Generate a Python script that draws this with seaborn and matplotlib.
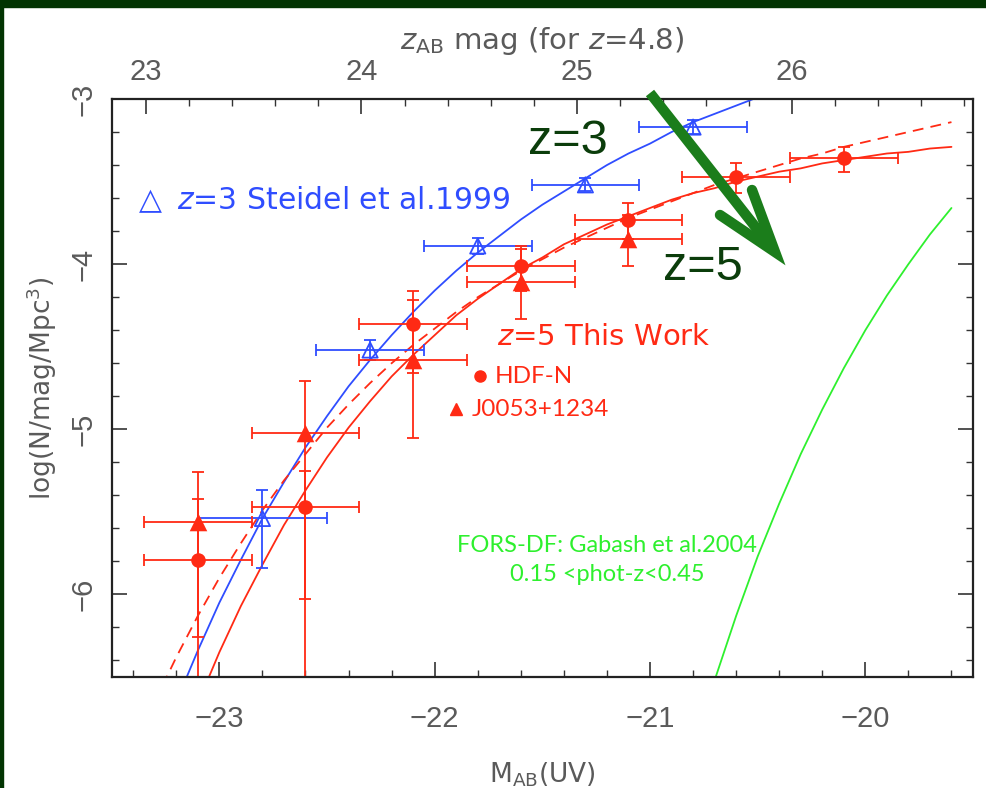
import matplotlib
matplotlib.use("Agg")
import matplotlib.pyplot as plt
import seaborn as sns
from matplotlib.ticker import MultipleLocator, FixedLocator
from matplotlib.lines import Line2D

sns.set_theme(style="ticks")
plt.rcParams['font.family'] = ['DejaVu Sans']
plt.rcParams['mathtext.fontset'] = 'dejavusans'

# z=3 Steidel et al. 1999 points
steidel_M = [-22.8, -22.3, -21.8, -21.3, -20.8]
steidel_phi = [-5.54, -4.52, -3.89, -3.52, -3.17]
steidel_xerr = [0.3, 0.25, 0.25, 0.25, 0.25]
steidel_yerr_lo = [0.30, 0.06, 0.05, 0.04, 0.04]
steidel_yerr_hi = [0.17, 0.06, 0.05, 0.04, 0.04]

# z=5 HDF-N points
hdfn_M = [-23.1, -22.6, -22.1, -21.6, -21.1, -20.6, -20.1]
hdfn_phi = [-5.79, -5.47, -4.36, -4.01, -3.73, -3.47, -3.36]
hdfn_xerr = [0.25, 0.25, 0.25, 0.25, 0.25, 0.25, 0.25]
hdfn_yerr_lo = [1.0, 0.56, 0.3, 0.15, 0.12, 0.1, 0.08]
hdfn_yerr_hi = [0.37, 0.22, 0.2, 0.12, 0.1, 0.08, 0.07]

# z=5 J0053+1234 points
j0053_M = [-23.1, -22.6, -22.1, -21.6, -21.1]
j0053_phi = [-5.56, -5.02, -4.58, -4.11, -3.85]
j0053_xerr = [0.25, 0.25, 0.25, 0.25, 0.25]
j0053_yerr_lo = [0.7, 1.6, 0.47, 0.22, 0.16]
j0053_yerr_hi = [0.3, 0.31, 0.36, 0.2, 0.15]

# Schechter fits, sampled every 0.1 mag
steidel_fit_M = [-23.2, -23.1, -23.0, -22.9, -22.8, -22.7, -22.6, -22.5, -22.4, -22.3,
                 -22.2, -22.1, -22.0, -21.9, -21.8, -21.7, -21.6, -21.5, -21.4, -21.3,
                 -21.2, -21.1, -21.0, -20.9, -20.8, -20.7, -20.6, -20.5, -20.4]
steidel_fit_phi = [-6.65, -6.34, -6.05, -5.79, -5.54, -5.32, -5.11, -4.92, -4.74, -4.58,
                   -4.43, -4.29, -4.16, -4.04, -3.93, -3.83, -3.73, -3.64, -3.56, -3.48,
                   -3.40, -3.33, -3.27, -3.20, -3.14, -3.09, -3.04, -2.99, -2.94]

z5_fit_M = [-23.1, -23.0, -22.9, -22.8, -22.7, -22.6, -22.5, -22.4, -22.3, -22.2,
            -22.1, -22.0, -21.9, -21.8, -21.7, -21.6, -21.5, -21.4, -21.3, -21.2,
            -21.1, -21.0, -20.9, -20.8, -20.7, -20.6, -20.5, -20.4, -20.3, -20.2,
            -20.1, -20.0, -19.9, -19.8, -19.7, -19.6]
z5_fit_phi = [-6.66, -6.35, -6.07, -5.82, -5.58, -5.37, -5.17, -4.99, -4.83, -4.68,
              -4.55, -4.43, -4.31, -4.21, -4.12, -4.03, -3.96, -3.88, -3.82, -3.76,
              -3.71, -3.66, -3.61, -3.57, -3.54, -3.50, -3.47, -3.44, -3.42, -3.39,
              -3.37, -3.35, -3.33, -3.32, -3.30, -3.29]

z5_steep_M = [-23.3, -23.2, -23.1, -23.0, -22.9, -22.8, -22.7, -22.6, -22.5, -22.4,
              -22.3, -22.2, -22.1, -22.0, -21.9, -21.8, -21.7, -21.6, -21.5, -21.4,
              -21.3, -21.2, -21.1, -21.0, -20.9, -20.8, -20.7, -20.6, -20.5, -20.4,
              -20.3, -20.2, -20.1, -20.0, -19.9, -19.8, -19.7, -19.6]
z5_steep_phi = [-6.65, -6.38, -6.13, -5.90, -5.69, -5.49, -5.31, -5.15, -4.99, -4.85,
                -4.72, -4.60, -4.49, -4.39, -4.29, -4.20, -4.12, -4.04, -3.97, -3.90,
                -3.84, -3.78, -3.72, -3.67, -3.62, -3.57, -3.52, -3.48, -3.44, -3.40,
                -3.36, -3.33, -3.29, -3.26, -3.23, -3.20, -3.17, -3.14]

fors_fit_M = [-20.7, -20.6, -20.5, -20.4, -20.3, -20.2, -20.1, -20.0, -19.9, -19.8,
              -19.7, -19.6]
fors_fit_phi = [-6.52, -6.13, -5.77, -5.45, -5.15, -4.88, -4.63, -4.40, -4.19, -4.00,
                -3.82, -3.66]

top_ticks = [23, 24, 25, 26]
ZAB_OFFSET = 46.34

W, H = 986, 788
fig = plt.figure(figsize=(W / 100, H / 100), dpi=100)
fig.patch.set_facecolor('white')
fig.add_artist(plt.Rectangle((0, 1 - 7 / H), 1, 7 / H, transform=fig.transFigure,
                             color='#023402', zorder=0))
fig.add_artist(plt.Rectangle((0, 0), 3 / W, 1, transform=fig.transFigure,
                             color='#023402', zorder=0))

L, R, T, B = 111.7, 973, 99, 677
ax = fig.add_axes([L / W, 1 - B / H, (R - L) / W, (B - T) / H])

BLUE = '#2f4dff'
RED = '#ff2a14'
GREEN = '#2ef02e'
GREY = '#5a5a5a'

sns.lineplot(x=steidel_fit_M, y=steidel_fit_phi, ax=ax, color=BLUE, lw=1.3, sort=False)
sns.lineplot(x=z5_fit_M, y=z5_fit_phi, ax=ax, color=RED, lw=1.3, sort=False)
sns.lineplot(x=z5_steep_M, y=z5_steep_phi, ax=ax, color=RED, lw=1.3, sort=False, dashes=(6, 4))
sns.lineplot(x=fors_fit_M, y=fors_fit_phi, ax=ax, color=GREEN, lw=1.3, sort=False)

ax.errorbar(steidel_M, steidel_phi, xerr=steidel_xerr, yerr=[steidel_yerr_lo, steidel_yerr_hi],
            fmt='none', ecolor=BLUE, elinewidth=1.3, capsize=4, capthick=1.3)
sns.scatterplot(x=steidel_M, y=steidel_phi, ax=ax, marker='^', s=120, facecolor='none',
                edgecolor=BLUE, linewidth=1.3, zorder=5)

ax.errorbar(hdfn_M, hdfn_phi, xerr=hdfn_xerr, yerr=[hdfn_yerr_lo, hdfn_yerr_hi],
            fmt='none', ecolor=RED, elinewidth=1.3, capsize=4, capthick=1.3)
sns.scatterplot(x=hdfn_M, y=hdfn_phi, ax=ax, marker='o', s=110, color=RED, edgecolor=RED,
                linewidth=0, zorder=5)
ax.errorbar(j0053_M, j0053_phi, xerr=j0053_xerr, yerr=[j0053_yerr_lo, j0053_yerr_hi],
            fmt='none', ecolor=RED, elinewidth=1.3, capsize=4, capthick=1.3)
sns.scatterplot(x=j0053_M, y=j0053_phi, ax=ax, marker='^', s=160, color=RED, edgecolor=RED,
                linewidth=0, zorder=5)

ax.set_xlim(-23.5, -19.5)
ax.set_ylim(-6.5, -3.0)
ax.xaxis.set_major_locator(MultipleLocator(1))
ax.xaxis.set_minor_locator(MultipleLocator(0.2))
ax.yaxis.set_major_locator(MultipleLocator(1))
ax.yaxis.set_minor_locator(MultipleLocator(0.2))
ax.tick_params(which='both', direction='in', top=False, right=True, color='#333333',
               labelcolor=GREY, labelsize=21)
ax.tick_params(which='major', length=11, width=1.2)
ax.tick_params(which='minor', length=5, width=1.0)
ax.tick_params(axis='x', pad=20)
ax.tick_params(axis='y', pad=10)
for lab in ax.get_xticklabels() + ax.get_yticklabels():
    lab.set_fontfamily('Liberation Sans')
for lab in ax.get_yticklabels():
    lab.set_rotation(90)
    lab.set_va('center')
for s in ax.spines.values():
    s.set_linewidth(1.6)
    s.set_color('#222222')

top = ax.secondary_xaxis('top', functions=(lambda M: M + ZAB_OFFSET, lambda m: m - ZAB_OFFSET))
top.xaxis.set_major_locator(FixedLocator(top_ticks))
top.xaxis.set_minor_locator(MultipleLocator(0.2))
top.tick_params(which='both', direction='in', color='#333333', labelcolor=GREY, labelsize=21, pad=9)
top.tick_params(which='major', length=11, width=1.2)
top.tick_params(which='minor', length=5, width=1.0)
for lab in top.get_xticklabels():
    lab.set_fontfamily('Liberation Sans')
top.set_xlabel(r'$z_{\rm AB}$ mag (for $z$=4.8)', color=GREY, fontsize=21, labelpad=7)

ax.set_xlabel(r'M$_{\rm AB}$(UV)', color=GREY, fontsize=19, labelpad=20)
ax.set_ylabel(r'log(N/mag/Mpc$^3$)', color=GREY, fontsize=19, labelpad=8)

ax.text(21 / (R - L), 1 - (200 - T) / (B - T), r'$\triangle$ $z$=3 Steidel et al.1999',
        transform=ax.transAxes, color=BLUE, fontsize=21.5, va='center')
ax.text((497 - L) / (R - L), 1 - (337 - T) / (B - T), r'$z$=5 This Work',
        transform=ax.transAxes, color=RED, fontsize=21, va='center')
ax.plot([-21.79], [-4.68], 'o', color=RED, ms=8)
ax.text(-21.72, -4.68, 'HDF-N', color=RED, fontsize=17.5, va='center', family='Lato')
ax.plot([-21.9], [-4.88], '^', color=RED, ms=8)
ax.text(-21.83, -4.88, 'J0053+1234', color=RED, fontsize=17.5, va='center', family='Lato')
ax.text(-21.2, -5.79, 'FORS-DF: Gabash et al.2004\n0.15 <phot-z<0.45', color=GREEN,
        fontsize=17, va='center', ha='center', family='Lato', linespacing=1.45)

# redshift arrow overlay
fig.text(528 / W, 1 - 141 / H, 'z=3', color='#0b3d0b', fontsize=35, va='center',
         family='Liberation Sans')
fig.text(663 / W, 1 - 267 / H, 'z=5', color='#0b3d0b', fontsize=35, va='center',
         family='Liberation Sans')
ARROW = '#1b7d1b'
fig.add_artist(Line2D([650 / W, 772 / W], [1 - 93 / H, 1 - 248 / H], color=ARROW, lw=7.5,
                      solid_capstyle='butt'))
fig.add_artist(Line2D([720 / W, 775 / W, 752 / W], [1 - 215 / H, 1 - 252 / H, 1 - 190 / H],
                      color=ARROW, lw=7.5, solid_capstyle='round', solid_joinstyle='miter'))

fig.savefig('out.png', dpi=100, facecolor='white')
